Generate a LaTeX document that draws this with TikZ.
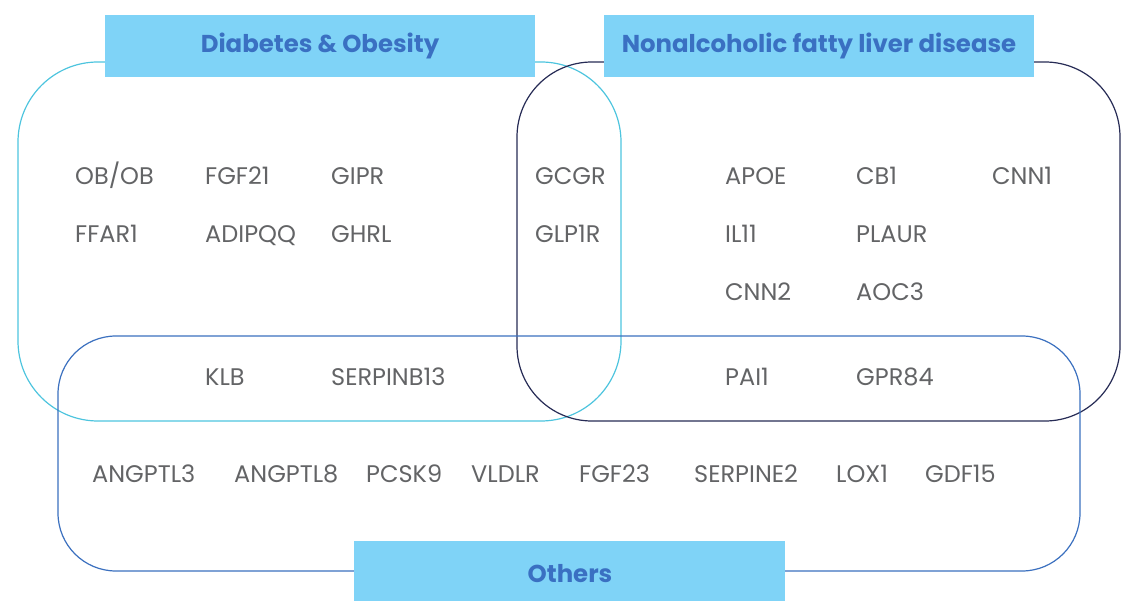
\documentclass[tikz,border=0pt]{standalone}
\usepackage{fontspec}
\setmainfont{Poppins}
\definecolor{labfill}{HTML}{7FD3F7}
\definecolor{titlec}{HTML}{3A70C2}
\definecolor{genec}{HTML}{636466}
\definecolor{cyanc}{HTML}{4DC4DE}
\definecolor{navyc}{HTML}{262B55}
\definecolor{bluec}{HTML}{3B70BF}
\tikzset{
  gene/.style={anchor=base west, inner sep=0pt, text=genec, font=\fontsize{24}{28}\selectfont},
  labbox/.style={fill=labfill, draw=none},
  labtext/.style={anchor=base, inner sep=0pt, text=titlec, font=\fontsize{24.4}{30}\selectfont\bfseries},
  region/.style={line width=1.2pt}
}
\begin{document}
\begin{tikzpicture}[x=1pt,y=-1pt]
\useasboundingbox (0,0) rectangle (1143,609);
% regions
\draw[region, draw=cyanc, rounded corners=80pt] (18,62) rectangle (621,421);
\draw[region, draw=navyc, rounded corners=75pt] (517,62) rectangle (1120,421);
\draw[region, draw=bluec, rounded corners=58pt] (58,336) rectangle (1080,571);
% label boxes
\fill[labbox] (105,15) rectangle (535,77);
\fill[labbox] (604,15) rectangle (1034,77);
\fill[labbox] (354,541) rectangle (785,601);
\node[labtext] (tdo) at (320,53) {Diabetes \& Obesity};
\node[labtext] (tnafld) at (819,53) {Nonalcoholic fatty liver disease};
\node[labtext] (toth) at (570,582) {Others};
% row 1
\node[gene] (obob) at (75,185) {OB/OB};
\node[gene] (fgf21) at (205,185) {FGF21};
\node[gene] (gipr) at (331,185) {GIPR};
\node[gene] (gcgr) at (535,185) {GCGR};
\node[gene] (apoe) at (725,185) {APOE};
\node[gene] (cb1) at (856,185) {CB1};
\node[gene] (cnn1) at (992,185) {CNN1};
% row 2
\node[gene] (ffar1) at (75,243) {FFAR1};
\node[gene] (adipqq) at (205,243) {ADIPQQ};
\node[gene] (ghrl) at (331,243) {GHRL};
\node[gene] (glp1r) at (535,243) {GLP1R};
\node[gene] (il11) at (725,243) {IL11};
\node[gene] (plaur) at (856,243) {PLAUR};
% row 3
\node[gene] (cnn2) at (725,301) {CNN2};
\node[gene] (aoc3) at (856,301) {AOC3};
% row 4
\node[gene] (klb) at (205,385) {KLB};
\node[gene] (serpinb13) at (331,385) {SERPINB13};
\node[gene] (pai1) at (725,385) {PAI1};
\node[gene] (gpr84) at (856,385) {GPR84};
% row 5
\node[gene] (angptl3) at (92,482) {ANGPTL3};
\node[gene] (angptl8) at (234,482) {ANGPTL8};
\node[gene] (pcsk9) at (366,482) {PCSK9};
\node[gene] (vldlr) at (471,482) {VLDLR};
\node[gene] (fgf23) at (579,482) {FGF23};
\node[gene] (serpine2) at (694,482) {SERPINE2};
\node[gene] (lox1) at (836,482) {LOX1};
\node[gene] (gdf15) at (925,482) {GDF15};
\end{tikzpicture}
\end{document}
